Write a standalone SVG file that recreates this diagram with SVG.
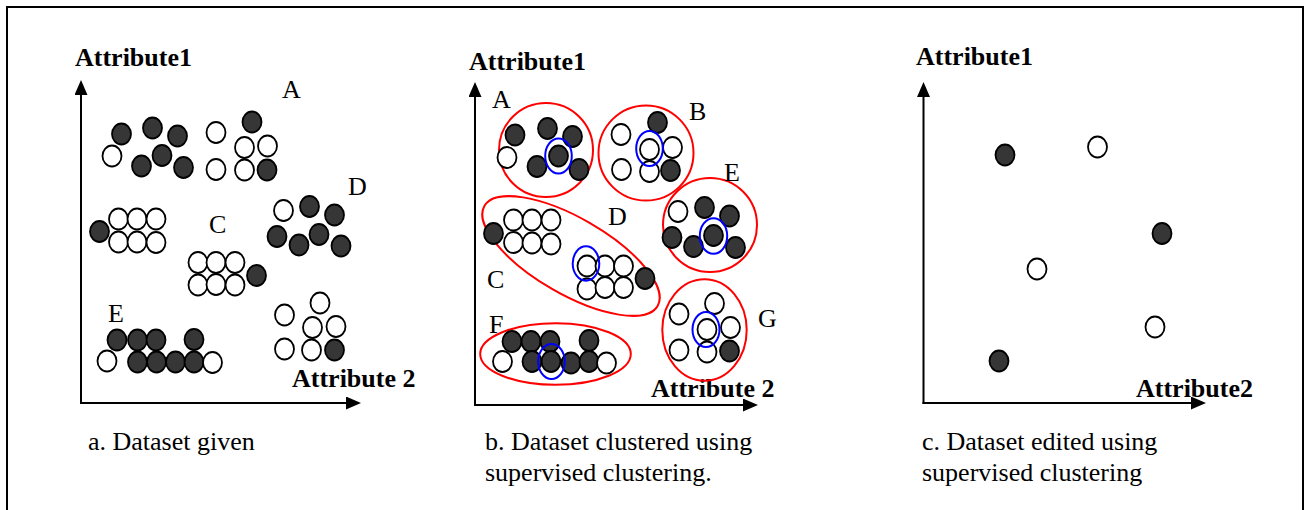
<svg xmlns="http://www.w3.org/2000/svg" width="1304" height="510" viewBox="0 0 1304 510">
  <style>
    .frame { fill: none; stroke: #000; stroke-width: 2; }
    .ax { fill: none; stroke: #000; stroke-width: 2; marker-end: url(#arrow); }
    .o { fill: #fff; stroke: #000; stroke-width: 1.8; }
    .f { fill: #363636; stroke: #000; stroke-width: 1.8; }
    .clu { fill: none; stroke: #f00; stroke-width: 2; }
    .rep { fill: none; stroke: #00f; stroke-width: 2; }
    .lbl { font-family: "Liberation Serif", "Times New Roman", serif; font-size: 26px; fill: #000; }
    .axl { font-family: "Liberation Serif", "Times New Roman", serif; font-size: 26px; font-weight: bold; fill: #000; }
  </style>
  <defs>
    <marker id="arrow" viewBox="0 0 15 13" refX="3" refY="6.5" markerWidth="15" markerHeight="13" markerUnits="userSpaceOnUse" orient="auto">
      <path d="M0,0 L15,6.5 L0,13 z" fill="#000"/>
    </marker>
  </defs>

  <rect class="frame" x="7" y="7" width="1296" height="520"/>

  <!-- a. raw dataset -->
  <g id="panel-a">
    <g id="axes-a">
      <line class="ax" x1="81" y1="404" x2="81" y2="92"/>
      <line class="ax" x1="80" y1="403" x2="349" y2="403"/>
      <text class="axl" x="75" y="66">Attribute1</text>
      <text class="axl" x="292" y="387">Attribute 2</text>
    </g>
    <g id="group-a-A">
      <ellipse class="f" cx="121.5" cy="134" rx="9.5" ry="10.5"/>
      <ellipse class="f" cx="152.5" cy="128" rx="9.5" ry="10.5"/>
      <ellipse class="f" cx="177.5" cy="136" rx="9.5" ry="10.5"/>
      <ellipse class="o" cx="112" cy="156" rx="9.5" ry="10.5"/>
      <ellipse class="f" cx="141.5" cy="166" rx="9.5" ry="10.5"/>
      <ellipse class="f" cx="162" cy="155.5" rx="9.5" ry="10.5"/>
      <ellipse class="f" cx="183.5" cy="167.5" rx="9.5" ry="10.5"/>
      <ellipse class="o" cx="216" cy="132.5" rx="9.5" ry="10.5"/>
      <ellipse class="f" cx="252" cy="122" rx="9.5" ry="10.5"/>
      <ellipse class="o" cx="244.5" cy="147.5" rx="9.5" ry="10.5"/>
      <ellipse class="o" cx="267.5" cy="146" rx="9.5" ry="10.5"/>
      <ellipse class="o" cx="216" cy="169.5" rx="9.5" ry="10.5"/>
      <ellipse class="o" cx="244.5" cy="170" rx="9.5" ry="10.5"/>
      <ellipse class="f" cx="267" cy="170" rx="9.5" ry="10.5"/>
      <text class="lbl" x="282" y="98">A</text>
    </g>
    <g id="group-a-D">
      <ellipse class="o" cx="283.5" cy="210.5" rx="9.5" ry="10.5"/>
      <ellipse class="f" cx="309.5" cy="206.5" rx="9.5" ry="10.5"/>
      <ellipse class="f" cx="334.5" cy="215" rx="9.5" ry="10.5"/>
      <ellipse class="f" cx="277" cy="236.5" rx="9.5" ry="10.5"/>
      <ellipse class="f" cx="299" cy="245" rx="9.5" ry="10.5"/>
      <ellipse class="f" cx="319" cy="234.5" rx="9.5" ry="10.5"/>
      <ellipse class="f" cx="341" cy="246" rx="9.5" ry="10.5"/>
      <text class="lbl" x="348" y="195">D</text>
    </g>
    <g id="group-a-C">
      <ellipse class="f" cx="99.5" cy="231.5" rx="9.5" ry="10.5"/>
      <ellipse class="o" cx="118.5" cy="219" rx="9.5" ry="10.5"/>
      <ellipse class="o" cx="137" cy="219" rx="9.5" ry="10.5"/>
      <ellipse class="o" cx="156" cy="219" rx="9.5" ry="10.5"/>
      <ellipse class="o" cx="118.5" cy="242" rx="9.5" ry="10.5"/>
      <ellipse class="o" cx="137" cy="242" rx="9.5" ry="10.5"/>
      <ellipse class="o" cx="156" cy="242.5" rx="9.5" ry="10.5"/>
      <ellipse class="o" cx="198" cy="262.5" rx="9.5" ry="10.5"/>
      <ellipse class="o" cx="216" cy="262.5" rx="9.5" ry="10.5"/>
      <ellipse class="o" cx="235" cy="262.5" rx="9.5" ry="10.5"/>
      <ellipse class="o" cx="198" cy="285" rx="9.5" ry="10.5"/>
      <ellipse class="o" cx="216" cy="284.5" rx="9.5" ry="10.5"/>
      <ellipse class="o" cx="235" cy="285" rx="9.5" ry="10.5"/>
      <ellipse class="f" cx="256.5" cy="275.5" rx="9.5" ry="10.5"/>
      <text class="lbl" x="209" y="233">C</text>
    </g>
    <g id="group-a-E">
      <ellipse class="f" cx="117" cy="340" rx="9.5" ry="10.5"/>
      <ellipse class="f" cx="137.5" cy="340" rx="9.5" ry="10.5"/>
      <ellipse class="f" cx="156" cy="340" rx="9.5" ry="10.5"/>
      <ellipse class="f" cx="194" cy="339.5" rx="9.5" ry="10.5"/>
      <ellipse class="o" cx="107" cy="361" rx="9.5" ry="10.5"/>
      <ellipse class="f" cx="137.5" cy="362" rx="9.5" ry="10.5"/>
      <ellipse class="f" cx="156.5" cy="362" rx="9.5" ry="10.5"/>
      <ellipse class="f" cx="175.5" cy="362" rx="9.5" ry="10.5"/>
      <ellipse class="f" cx="194" cy="362" rx="9.5" ry="10.5"/>
      <ellipse class="o" cx="212.5" cy="362.5" rx="9.5" ry="10.5"/>
      <text class="lbl" x="108" y="322">E</text>
    </g>
    <g id="group-a-G">
      <ellipse class="o" cx="320" cy="303" rx="9.5" ry="10.5"/>
      <ellipse class="o" cx="284.5" cy="315" rx="9.5" ry="10.5"/>
      <ellipse class="o" cx="312.5" cy="327.5" rx="9.5" ry="10.5"/>
      <ellipse class="o" cx="336" cy="326.5" rx="9.5" ry="10.5"/>
      <ellipse class="o" cx="284.5" cy="349" rx="9.5" ry="10.5"/>
      <ellipse class="o" cx="311.5" cy="350" rx="9.5" ry="10.5"/>
      <ellipse class="f" cx="334.5" cy="350" rx="9.5" ry="10.5"/>
    </g>
    <text class="lbl" x="88" y="450">a. Dataset given</text>
  </g>

  <!-- b. clustered dataset -->
  <g id="panel-b">
    <g id="axes-b">
      <line class="ax" x1="475" y1="406" x2="475" y2="94"/>
      <line class="ax" x1="474" y1="405" x2="746" y2="405"/>
      <text class="axl" x="469" y="70">Attribute1</text>
      <text class="axl" x="651" y="397">Attribute 2</text>
    </g>
    <g id="cluster-A">
      <circle class="clu" cx="546" cy="150" r="47"/>
      <ellipse class="f" cx="515" cy="135" rx="9.5" ry="10.5"/>
      <ellipse class="f" cx="547.5" cy="128.5" rx="9.5" ry="10.5"/>
      <ellipse class="f" cx="572.5" cy="136.5" rx="9.5" ry="10.5"/>
      <ellipse class="o" cx="507" cy="157.5" rx="9.5" ry="10.5"/>
      <ellipse class="f" cx="537" cy="166.5" rx="9.5" ry="10.5"/>
      <ellipse class="f" cx="558.5" cy="156" rx="9.5" ry="10.5"/>
      <ellipse class="f" cx="579" cy="169.5" rx="9.5" ry="10.5"/>
      <ellipse class="rep" cx="558.5" cy="156" rx="13.3" ry="17.5"/>
      <text class="lbl" x="492" y="108">A</text>
    </g>
    <g id="cluster-B">
      <circle class="clu" cx="646" cy="153" r="47.5"/>
      <ellipse class="o" cx="621" cy="134.5" rx="9.5" ry="10.5"/>
      <ellipse class="f" cx="657.5" cy="122.5" rx="9.5" ry="10.5"/>
      <ellipse class="o" cx="649.5" cy="149.5" rx="9.5" ry="10.5"/>
      <ellipse class="o" cx="672.5" cy="147.5" rx="9.5" ry="10.5"/>
      <ellipse class="o" cx="621.5" cy="169.5" rx="9.5" ry="10.5"/>
      <ellipse class="o" cx="649.5" cy="171.5" rx="9.5" ry="10.5"/>
      <ellipse class="f" cx="670.5" cy="170.5" rx="9.5" ry="10.5"/>
      <ellipse class="rep" cx="649.5" cy="148.5" rx="13.3" ry="17.5"/>
      <text class="lbl" x="689" y="120">B</text>
    </g>
    <g id="cluster-CD">
      <ellipse class="clu" cx="571" cy="256" rx="100" ry="38" transform="rotate(30 571 256)"/>
      <ellipse class="f" cx="493.5" cy="233.5" rx="9.5" ry="10.5"/>
      <ellipse class="o" cx="513.5" cy="220" rx="9.5" ry="10.5"/>
      <ellipse class="o" cx="532" cy="220" rx="9.5" ry="10.5"/>
      <ellipse class="o" cx="551" cy="220" rx="9.5" ry="10.5"/>
      <ellipse class="o" cx="513.5" cy="242.5" rx="9.5" ry="10.5"/>
      <ellipse class="o" cx="532" cy="243" rx="9.5" ry="10.5"/>
      <ellipse class="o" cx="551" cy="244" rx="9.5" ry="10.5"/>
      <ellipse class="o" cx="587" cy="266" rx="9.5" ry="10.5"/>
      <ellipse class="o" cx="605" cy="266" rx="9.5" ry="10.5"/>
      <ellipse class="o" cx="623.5" cy="266" rx="9.5" ry="10.5"/>
      <ellipse class="o" cx="587" cy="289" rx="9.5" ry="10.5"/>
      <ellipse class="o" cx="605" cy="287.5" rx="9.5" ry="10.5"/>
      <ellipse class="o" cx="623.5" cy="287.5" rx="9.5" ry="10.5"/>
      <ellipse class="f" cx="645" cy="278.5" rx="9.5" ry="10.5"/>
      <ellipse class="rep" cx="586" cy="263.5" rx="13.3" ry="17.2"/>
      <text class="lbl" x="608" y="225">D</text>
      <text class="lbl" x="487" y="288">C</text>
    </g>
    <g id="cluster-E">
      <circle class="clu" cx="710" cy="225" r="47"/>
      <ellipse class="o" cx="678" cy="211.5" rx="9.5" ry="10.5"/>
      <ellipse class="f" cx="704.5" cy="207.5" rx="9.5" ry="10.5"/>
      <ellipse class="f" cx="729.5" cy="216" rx="9.5" ry="10.5"/>
      <ellipse class="f" cx="672" cy="237.5" rx="9.5" ry="10.5"/>
      <ellipse class="f" cx="693.5" cy="246.5" rx="9.5" ry="10.5"/>
      <ellipse class="f" cx="713.5" cy="235.5" rx="9.5" ry="10.5"/>
      <ellipse class="f" cx="735.5" cy="247.5" rx="9.5" ry="10.5"/>
      <ellipse class="rep" cx="713.5" cy="236" rx="13.7" ry="17.8"/>
      <text class="lbl" x="724" y="181">E</text>
    </g>
    <g id="cluster-G">
      <ellipse class="clu" cx="704.5" cy="330" rx="42.2" ry="50.7"/>
      <ellipse class="o" cx="714.5" cy="303.5" rx="9.5" ry="10.5"/>
      <ellipse class="o" cx="679" cy="314" rx="9.5" ry="10.5"/>
      <ellipse class="o" cx="707" cy="329.5" rx="9.5" ry="10.5"/>
      <ellipse class="o" cx="730.5" cy="327.5" rx="9.5" ry="10.5"/>
      <ellipse class="o" cx="679" cy="350" rx="9.5" ry="10.5"/>
      <ellipse class="o" cx="707" cy="352" rx="9.5" ry="10.5"/>
      <ellipse class="f" cx="729.5" cy="351" rx="9.5" ry="10.5"/>
      <ellipse class="rep" cx="706" cy="329.5" rx="13.5" ry="17.5"/>
      <text class="lbl" x="758" y="327">G</text>
    </g>
    <g id="cluster-F">
      <ellipse class="clu" cx="555.5" cy="354" rx="75.3" ry="30.8"/>
      <ellipse class="f" cx="512" cy="341.5" rx="9.5" ry="10.5"/>
      <ellipse class="f" cx="531" cy="341.5" rx="9.5" ry="10.5"/>
      <ellipse class="f" cx="550" cy="341.5" rx="9.5" ry="10.5"/>
      <ellipse class="f" cx="589" cy="340.5" rx="9.5" ry="10.5"/>
      <ellipse class="o" cx="502.5" cy="361.5" rx="9.5" ry="10.5"/>
      <ellipse class="f" cx="532" cy="361.5" rx="9.5" ry="10.5"/>
      <ellipse class="f" cx="571" cy="363" rx="9.5" ry="10.5"/>
      <ellipse class="f" cx="551" cy="361.5" rx="9.5" ry="10.5"/>
      <ellipse class="f" cx="589" cy="361.5" rx="9.5" ry="10.5"/>
      <ellipse class="o" cx="606.5" cy="363" rx="9.5" ry="10.5"/>
      <ellipse class="rep" cx="551.5" cy="361.5" rx="13.3" ry="17.5"/>
      <text class="lbl" x="489" y="333">F</text>
    </g>
    <text class="lbl" x="485" y="450">b. Dataset clustered using</text>
    <text class="lbl" x="485" y="481">supervised clustering.</text>
  </g>

  <!-- c. edited dataset -->
  <g id="panel-c">
    <g id="axes-c">
      <line class="ax" x1="923.5" y1="404" x2="923.5" y2="94"/>
      <line class="ax" x1="922.5" y1="403" x2="1194" y2="403"/>
      <text class="axl" x="916" y="65">Attribute1</text>
      <text class="axl" x="1136" y="397">Attribute2</text>
    </g>
    <g id="points-c">
      <ellipse class="f" cx="1005" cy="155" rx="9.5" ry="10.5"/>
      <ellipse class="o" cx="1097.5" cy="147" rx="9.5" ry="10.5"/>
      <ellipse class="f" cx="1162" cy="233.5" rx="9.5" ry="10.5"/>
      <ellipse class="o" cx="1037" cy="269" rx="9.5" ry="10.5"/>
      <ellipse class="o" cx="1155" cy="327" rx="9.5" ry="10.5"/>
      <ellipse class="f" cx="999" cy="361" rx="9.5" ry="10.5"/>
    </g>
    <text class="lbl" x="922" y="450">c. Dataset edited using</text>
    <text class="lbl" x="922" y="481">supervised clustering</text>
  </g>
</svg>
